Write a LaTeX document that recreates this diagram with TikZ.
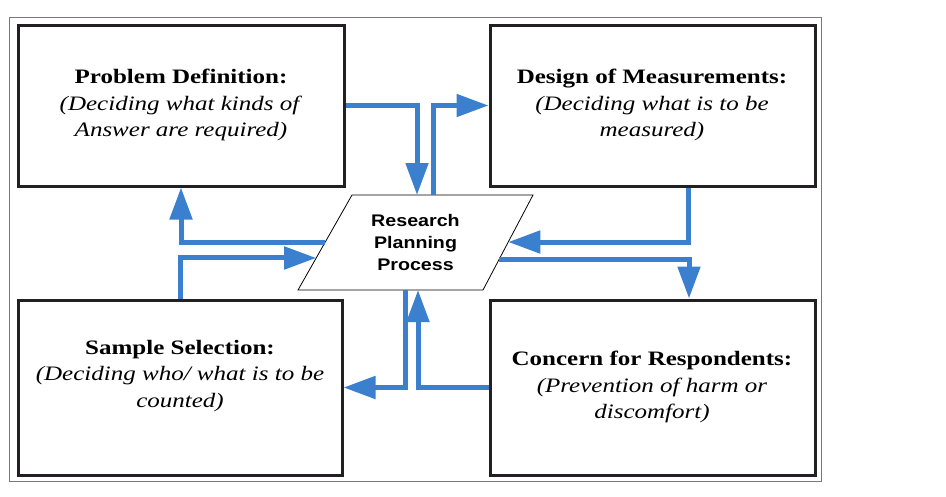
\documentclass[tikz,border=0pt]{standalone}
\usepackage{fontspec}
\setmainfont{Liberation Serif}[FakeStretch=1.22]
\newfontfamily\ctrfont{Liberation Sans}[FakeStretch=1.17]
\usetikzlibrary{arrows.meta,calc}
\definecolor{flowblue}{RGB}{58,128,206}
\definecolor{boxline}{RGB}{35,32,35}
\definecolor{framegray}{RGB}{120,120,120}
\begin{document}
\begin{tikzpicture}[x=1pt,y=-1pt,
  box/.style={draw=boxline,line width=3pt,inner sep=0pt},
  boxtext/.style={align=center,inner sep=0pt,font=\fontsize{20.5}{26.5}\selectfont},
  flow/.style={draw=flowblue,line width=5pt,line join=miter,
    -{Triangle[length=32pt,width=22pt]}}]
\useasboundingbox (0,0) rectangle (946,496);
% outer frame
\draw[framegray,line width=1pt] (9,17) rectangle (821,481);
% boxes
\node[box,minimum width=326pt,minimum height=161pt] (tl) at (181,105.5) {};
\node[box,minimum width=325pt,minimum height=161pt] (tr) at (652.5,105.5) {};
\node[box,minimum width=324pt,minimum height=175pt] (bl) at (180,387.5) {};
\node[box,minimum width=325pt,minimum height=175pt] (br) at (652.5,387.5) {};
% box texts
\node[boxtext] (tlt) at (181,105) {\textbf{Problem Definition:}\\\textit{(Deciding what kinds of}\\\textit{Answer are required)}};
\node[boxtext] (trt) at (652,105) {\textbf{Design of Measurements:}\\\textit{(Deciding what is to be}\\\textit{measured)}};
\node[boxtext] (blt) at (180,376) {\textbf{Sample Selection:}\\\textit{(Deciding who/ what is to be}\\\textit{counted)}};
\node[boxtext] (brt) at (652,387) {\textbf{Concern for Respondents:}\\\textit{(Prevention of harm or}\\\textit{discomfort)}};
% central parallelogram
\coordinate (pbl) at (298,290);
\coordinate (pbr) at (483,290);
\coordinate (ptr) at (533,195);
\coordinate (ptl) at (352,195);
\draw[black,line width=0.8pt] (pbl) -- (pbr) -- (ptr) -- (ptl) -- cycle;
\node[align=center,inner sep=0pt,font=\ctrfont\bfseries\fontsize{16.8}{22}\selectfont] (pp) at (415.5,242) {Research\\Planning\\Process};
% connector end points on the parallelogram
\coordinate (a1) at (417,195);
\coordinate (a2) at (433,195);
\coordinate (a3) at ($(pbr)!0.505!(ptr)$);
\coordinate (a4) at ($(pbr)!0.326!(ptr)$);
\coordinate (a5) at (418,290);
\coordinate (a6) at (405,290);
\coordinate (a7) at ($(pbl)!0.505!(ptl)$);
\coordinate (a8) at ($(pbl)!0.337!(ptl)$);
% connectors
\draw[flow] (tl.east) -| (a1);
\draw[flow] (a2) |- (tr.west);
\draw[flow] ([xshift=35.5pt]tr.south) |- (a3);
\draw[flow] (a4) -| ([xshift=36.5pt]br.north);
\draw[flow] (br.west) -| (a5);
\draw[flow] (a6) |- (bl.east);
\draw[flow] (a7) -| (tl.south);
\draw[flow] (bl.north) |- (a8);
\end{tikzpicture}
\end{document}
